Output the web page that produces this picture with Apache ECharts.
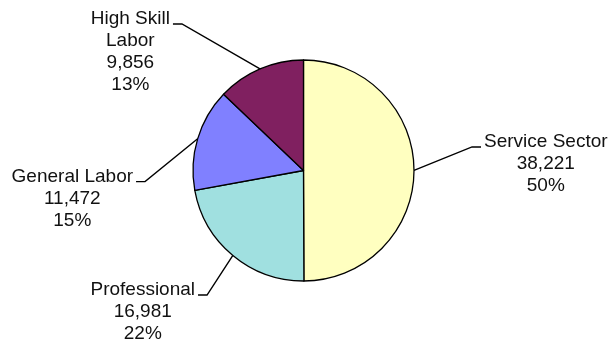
<!DOCTYPE html>
<html>
<head>
<meta charset="utf-8">
<script src="https://cdn.jsdelivr.net/npm/echarts@6/dist/echarts.min.js"></script>
<style>
  html, body { margin: 0; padding: 0; background: #ffffff; }
  #chart { width: 611px; height: 343px; }
</style>
</head>
<body>
<div id="chart"></div>
<script>
// Workforce by sector
const categories = ['Service Sector', 'Professional', 'General Labor', 'High Skill Labor'];
const values = [38221, 16981, 11472, 9856];
const sliceColors = ['#FFFFC0', '#A0E0E0', '#8080FF', '#802060'];

// Where each leader line bends, relative to the pie centre, in pie radii
const leaderElbows = [[1.525, -0.213], [-0.873, 1.127], [-1.434, 0.101], [-1.100, -1.326]];

const CX = 303.5, CY = 170.5, R = 110.5;
const LINE_H = 22;   // label line height
const STUB = 9;      // horizontal end of each leader line
const GAP = 3;       // space between leader line and text

// Names of three or more words go over two lines
function wrapName(name) {
  const words = name.split(' ');
  if (words.length < 3) return name;
  return words.slice(0, -1).join(' ') + '\n' + words[words.length - 1];
}

// Point on the rim at the middle of a slice (fallback for the leader start)
function rimPoint(idx) {
  const total = values.reduce((a, b) => a + b, 0);
  let before = 0;
  for (let k = 0; k < idx; k++) before += values[k];
  const mid = (before + values[idx] / 2) / total * 2 * Math.PI;
  return [CX + R * Math.sin(mid), CY - R * Math.cos(mid)];
}

const chart = echarts.init(document.getElementById('chart'), null, { renderer: 'canvas' });

chart.setOption({
  backgroundColor: '#ffffff',
  animation: false,
  series: [{
    type: 'pie',
    center: [CX, CY],
    radius: R,
    startAngle: 90,
    clockwise: true,
    avoidLabelOverlap: false,
    silent: true,
    data: categories.map((name, i) => ({
      name: name,
      value: values[i],
      itemStyle: { color: sliceColors[i] }
    })),
    itemStyle: { borderColor: '#000000', borderWidth: 1.3 },
    label: {
      show: true,
      position: 'outer',
      alignTo: 'none',
      fontFamily: 'Liberation Sans, Arial, sans-serif',
      fontSize: 19,
      lineHeight: LINE_H,
      color: '#111111',
      formatter: p => wrapName(p.name) + '\n' +
        echarts.format.addCommas(p.value) + '\n' +
        Math.round(p.percent) + '%'
    },
    labelLine: {
      show: true,
      length: 20,
      length2: 10,
      smooth: false,
      lineStyle: { color: '#000000', width: 1.4 }
    },
    labelLayout: function (params) {
      const i = params.dataIndex;
      const ex = CX + leaderElbows[i][0] * R;
      const ey = CY + leaderElbows[i][1] * R;
      const right = leaderElbows[i][0] > 0;
      const endX = right ? ex + STUB : ex - STUB;
      const w = params.labelRect.width;
      const labelX = right ? endX + GAP + w / 2 : endX - GAP - w / 2;
      const start = (params.labelLinePoints && params.labelLinePoints[0]) || rimPoint(i);
      return {
        x: labelX,
        y: ey - 5 - LINE_H / 2,
        align: 'center',
        verticalAlign: 'top',
        labelLinePoints: [start, [ex, ey], [endX, ey]]
      };
    }
  }]
});
</script>
</body>
</html>
